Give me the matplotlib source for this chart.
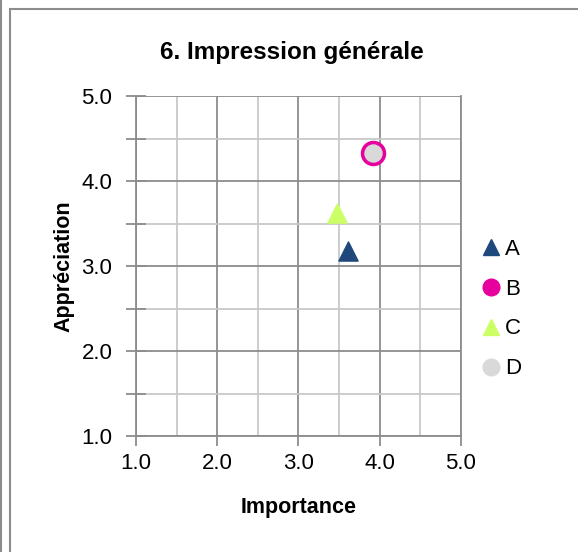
import matplotlib
matplotlib.use('Agg')
import matplotlib.pyplot as plt
from matplotlib.lines import Line2D
from matplotlib import font_manager as fm

#police étroite si dispo
fams = [f.name for f in fm.fontManager.ttflist]
if 'Liberation Sans Narrow' in fams:
    plt.rcParams['font.family'] = ['Liberation Sans Narrow', 'DejaVu Sans']
else:
    plt.rcParams['font.family'] = ['Liberation Sans', 'DejaVu Sans']

# données
series = ['A', 'B', 'C', 'D']
importance = [3.61, 3.92, 3.47, 3.92]
appreciation = [3.18, 4.33, 3.62, 4.33]
couleurs = ['#1F497D', '#E6009E', '#CCFF66', '#D9D9D9']
title = '6. Impression générale'
xlabel = 'Importance'
ylabel = 'Appréciation'
ticks = [1.0, 2.0, 3.0, 4.0, 5.0]

W, H = 578, 552
fig = plt.figure(figsize=(W/100, H/100), dpi=100)
ax = fig.add_axes([136/W, 1-436/H, 324.7/W, 340/H])

# cadre (lignes grises haut / gauche)
cadre = dict(color='#8C8C8C', lw=1.5, transform=fig.transFigure)
fig.add_artist(Line2D([10/W, 1], [1-9/H, 1-9/H], **cadre))
fig.add_artist(Line2D([10/W, 10/W], [0, 1-9/H], **cadre))
fig.add_artist(Line2D([1/W, 1/W], [0, 1], **cadre))

ax.set_xlim(1, 5)
ax.set_ylim(1, 5)
ax.set_xticks(ticks)
ax.set_yticks(ticks)
ax.set_xticks([1.5, 2.5, 3.5, 4.5], minor=True)
ax.set_yticks([1.5, 2.5, 3.5, 4.5], minor=True)
ax.set_xticklabels(['%.1f' % t for t in ticks])
ax.set_yticklabels(['%.1f' % t for t in ticks])
ax.grid(which='major', color='#8C8C8C', lw=1.3)
ax.grid(which='minor', color='#C8C8C8', lw=1.3)
ax.tick_params(axis='x', which='major', direction='out', length=7, color='#8C8C8C', width=1.3,
               labelsize=16, pad=5)
ax.tick_params(axis='x', which='minor', length=0)
ax.tick_params(axis='y', which='both', direction='inout', length=14, color='#8C8C8C', width=1.3,
               labelsize=16, pad=10)
for s in ax.spines.values():
    s.set_color('#8C8C8C')
    s.set_linewidth(1.3)
ax.spines['top'].set_visible(False)
ax.set_axisbelow(True)

# points
ax.scatter(importance[0], appreciation[0], marker='^', s=190, color=couleurs[0], zorder=3, clip_on=False)
ax.scatter(importance[1], appreciation[1], marker='o', s=300, color=couleurs[1], zorder=3, clip_on=False)
ax.scatter(importance[2], appreciation[2], marker='^', s=190, color=couleurs[2], zorder=3, clip_on=False)
ax.scatter(importance[3], appreciation[3], marker='o', s=150, color=couleurs[3], zorder=4, clip_on=False)

ax.set_title(title, fontsize=17.5, fontweight='bold', pad=27, x=0.481)
ax.set_xlabel(xlabel, fontsize=15.5, fontweight='bold', labelpad=17)
ax.set_ylabel(ylabel, fontsize=15.5, fontweight='bold', labelpad=5)

# légende
handles = [Line2D([], [], ls='', marker='^', ms=12, color=couleurs[0]),
           Line2D([], [], ls='', marker='o', ms=12, color=couleurs[1]),
           Line2D([], [], ls='', marker='^', ms=12, color=couleurs[2]),
           Line2D([], [], ls='', marker='o', ms=12, color=couleurs[3])]
fig.legend(handles, series, loc='center left', bbox_to_anchor=(462/W, 1-309/H),
           frameon=False, fontsize=16, handlelength=0.8, handletextpad=0.25, labelspacing=0.85)

fig.savefig('out.png', dpi=100)
